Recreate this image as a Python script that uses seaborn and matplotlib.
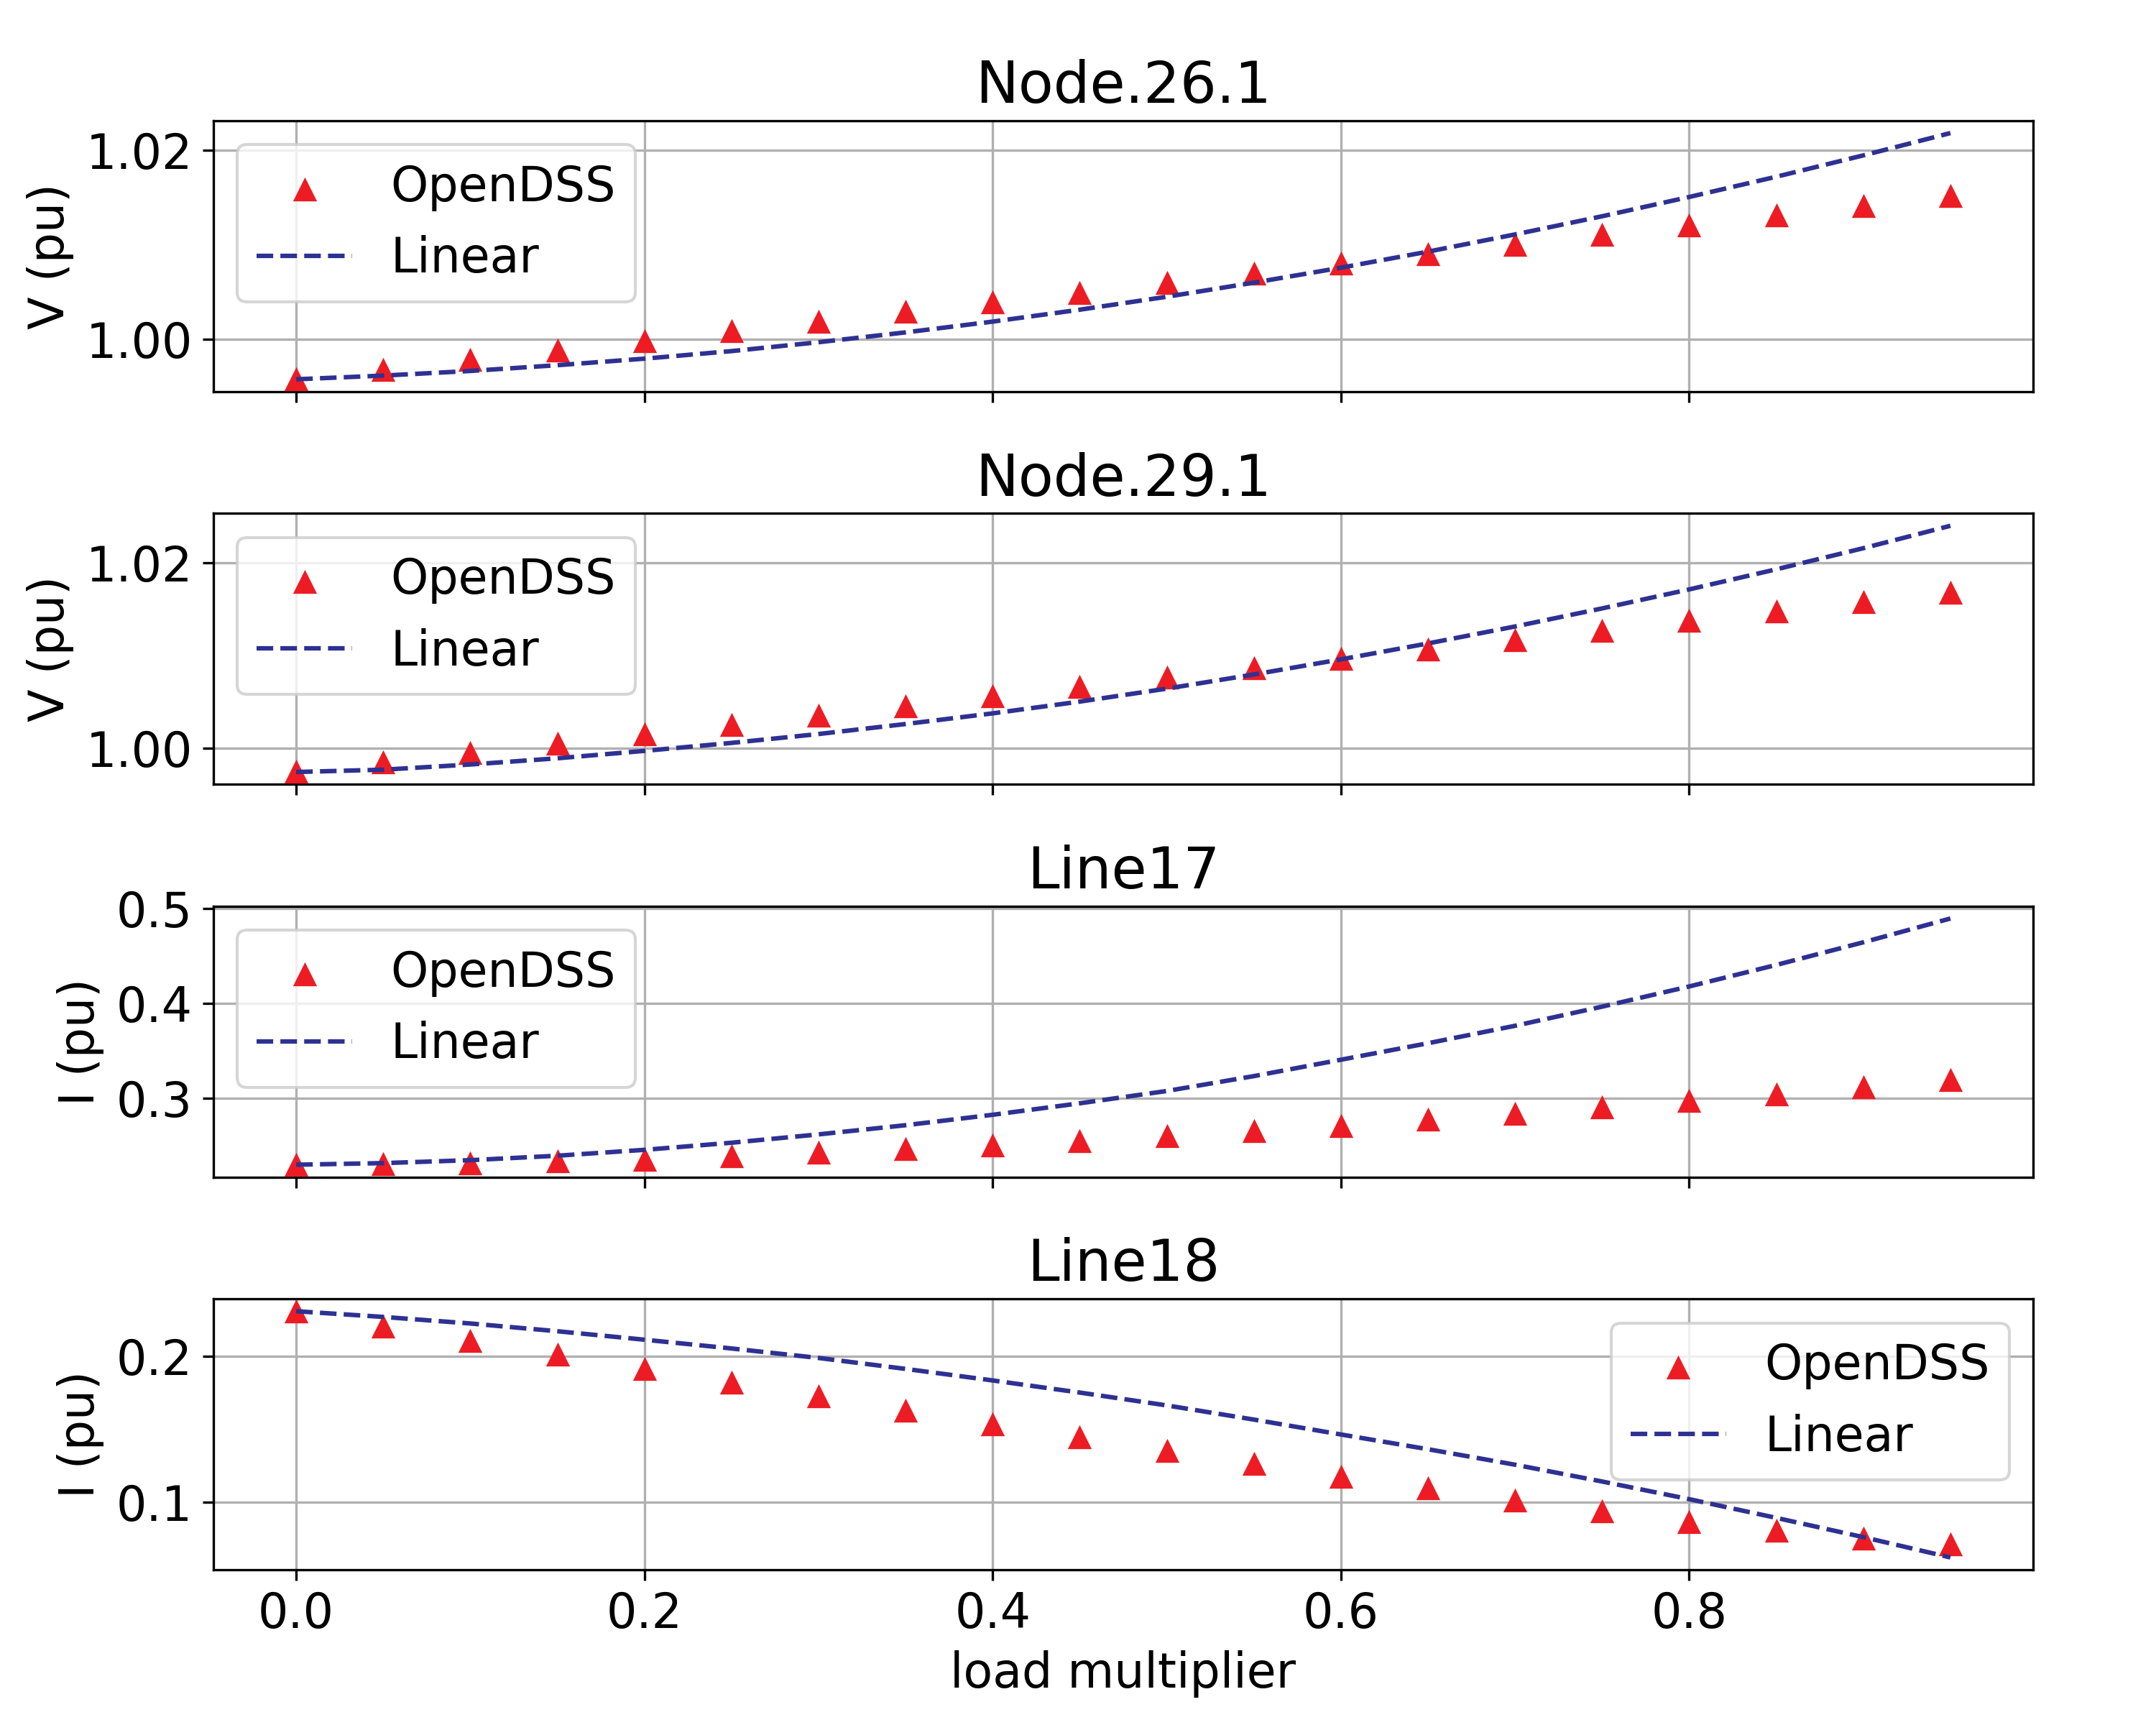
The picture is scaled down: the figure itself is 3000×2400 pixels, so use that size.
import matplotlib
matplotlib.use("Agg")
import matplotlib.pyplot as plt
import seaborn as sns
import numpy as np
import pandas as pd

# ---------------- data ----------------
load_mult = [0.00, 0.05, 0.10, 0.15, 0.20, 0.25, 0.30, 0.35, 0.40, 0.45,
             0.50, 0.55, 0.60, 0.65, 0.70, 0.75, 0.80, 0.85, 0.90, 0.95]

titles = ["Node.26.1", "Node.29.1", "Line17", "Line18"]
ylabels = ["V (pu)", "V (pu)", "I (pu)", "I (pu)"]

node26_opendss = [0.99584, 0.99686, 0.99787, 0.99887, 0.99989, 1.00093, 1.00194, 1.00298, 1.00398, 1.00500,
                  1.00602, 1.00704, 1.00806, 1.00908, 1.01010, 1.01112, 1.01214, 1.01316, 1.01418, 1.01520]
node26_linear = [0.99580, 0.99619, 0.99668, 0.99729, 0.99798, 0.99878, 0.99972, 1.00076, 1.00190, 1.00316,
                 1.00453, 1.00602, 1.00760, 1.00930, 1.01112, 1.01304, 1.01508, 1.01722, 1.01948, 1.02184]

node29_opendss = [0.99748, 0.99852, 0.99954, 1.00054, 1.00156, 1.00256, 1.00359, 1.00457, 1.00562, 1.00663,
                  1.00765, 1.00867, 1.00969, 1.01071, 1.01173, 1.01275, 1.01377, 1.01479, 1.01581, 1.01683]
node29_linear = [0.99742, 0.99767, 0.99823, 0.99890, 0.99970, 1.00056, 1.00152, 1.00260, 1.00375, 1.00502,
                 1.00642, 1.00795, 1.00958, 1.01130, 1.01313, 1.01508, 1.01713, 1.01930, 1.02158, 1.02400]

line17_opendss = [0.2295, 0.2304, 0.2313, 0.2338, 0.2350, 0.2386, 0.2424, 0.2464, 0.2507, 0.2552,
                  0.2600, 0.2658, 0.2711, 0.2773, 0.2839, 0.2905, 0.2973, 0.3043, 0.3116, 0.3194]
line17_linear = [0.2295, 0.2312, 0.2343, 0.2390, 0.2452, 0.2527, 0.2615, 0.2712, 0.2822, 0.2943,
                 0.3073, 0.3230, 0.3403, 0.3577, 0.3761, 0.3963, 0.4176, 0.4403, 0.4642, 0.4893]

line18_opendss = [0.2307, 0.2207, 0.2109, 0.2015, 0.1917, 0.1820, 0.1727, 0.1629, 0.1535, 0.1446,
                  0.1353, 0.1265, 0.1178, 0.1096, 0.1015, 0.0941, 0.0868, 0.0805, 0.0755, 0.0716]
line18_linear = [0.2307, 0.2268, 0.2223, 0.2170, 0.2112, 0.2052, 0.1987, 0.1912, 0.1833, 0.1750,
                 0.1662, 0.1565, 0.1463, 0.1362, 0.1256, 0.1141, 0.1020, 0.0892, 0.0760, 0.0621]

opendss_series = [node26_opendss, node29_opendss, line17_opendss, line18_opendss]
linear_series = [node26_linear, node29_linear, line17_linear, line18_linear]

yticks_list = [[1.00, 1.02], [1.00, 1.02], [0.3, 0.4, 0.5], [0.1, 0.2]]
ytick_fmt = ["{:.2f}", "{:.2f}", "{:.1f}", "{:.1f}"]
xticks = [0.0, 0.2, 0.4, 0.6, 0.8]
legend_locs = ["upper left", "upper left", "upper left", "upper right"]

red = "#ED1C24"
navy = "#2E3192"

# ---------------- plot ----------------
plt.rcParams["font.family"] = ["DejaVu Sans"]
plt.rcParams["font.size"] = 16
plt.rcParams["axes.grid"] = True

fig, axes = plt.subplots(4, 1, figsize=(10, 8), dpi=300, sharex=True)
fig.subplots_adjust(left=0.099, right=0.943, top=0.930, bottom=0.090, hspace=0.45)

for i, ax in enumerate(axes):
    df = pd.DataFrame({"x": load_mult, "opendss": opendss_series[i], "linear": linear_series[i]})
    sns.scatterplot(data=df, x="x", y="opendss", ax=ax, marker="^", s=64,
                    color=red, linewidth=0, label="OpenDSS", zorder=3)
    sns.lineplot(data=df, x="x", y="linear", ax=ax, color=navy, linestyle="--",
                 linewidth=1.5, label="Linear", zorder=4)
    ax.set_title(titles[i], fontsize=19.2)
    ax.set_ylabel(ylabels[i])
    ax.set_xlabel("")
    ax.set_yticks(yticks_list[i])
    ax.set_yticklabels([ytick_fmt[i].format(v) for v in yticks_list[i]])
    ax.grid(True, color="#b0b0b0", linewidth=0.8)
    ax.set_axisbelow(True)
    ax.legend(loc=legend_locs[i], fontsize=16)
    for sp in ax.spines.values():
        sp.set_color("black")
        sp.set_linewidth(0.8)

axes[-1].set_xticks(xticks)
axes[-1].set_xticklabels(["{:.1f}".format(v) for v in xticks])
axes[-1].set_xlabel("load multiplier")

fig.savefig("out.png", dpi=300)
